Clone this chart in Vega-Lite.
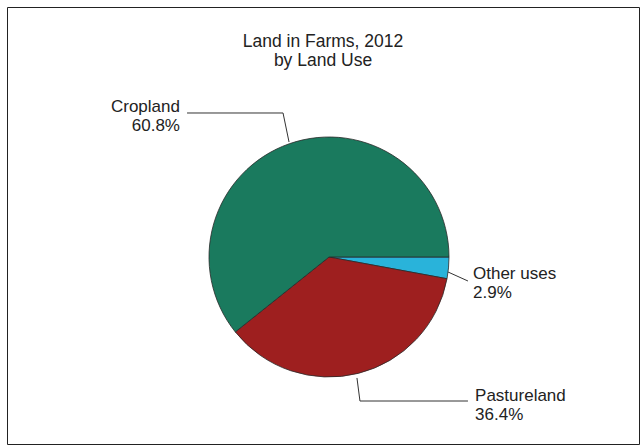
{
  "$schema": "https://vega.github.io/schema/vega-lite/v6.json",
  "width": 632,
  "height": 437,
  "autosize": {"type": "none"},
  "padding": {"left": 7, "top": 7, "right": 2, "bottom": 3},
  "background": "white",
  "config": {
    "view": {"stroke": "#222", "strokeWidth": 1},
    "font": "Liberation Sans"
  },
  "title": {
    "text": ["Land in Farms, 2012", "by Land Use"],
    "anchor": "middle",
    "frame": "group",
    "offset": -62,
    "fontSize": 17.5,
    "fontWeight": "normal",
    "color": "#222",
    "lineHeight": 18.5,
    "font": "Liberation Sans"
  },
  "datasets": {
    "landuse": [
      {"use": "Other uses", "share": 2.9, "order": 1},
      {"use": "Pastureland", "share": 36.4, "order": 2},
      {"use": "Cropland", "share": 60.8, "order": 3}
    ],
    "leaders": [
      {"use": "Cropland", "seq": 1, "lx": -0.333, "ly": 0.958},
      {"use": "Cropland", "seq": 2, "lx": -0.383, "ly": 1.2},
      {"use": "Cropland", "seq": 3, "lx": -1.183, "ly": 1.2},
      {"use": "Other uses", "seq": 1, "lx": 0.992, "ly": -0.125},
      {"use": "Other uses", "seq": 2, "lx": 1.158, "ly": -0.2},
      {"use": "Pastureland", "seq": 1, "lx": 0.233, "ly": -1.008},
      {"use": "Pastureland", "seq": 2, "lx": 0.258, "ly": -1.2},
      {"use": "Pastureland", "seq": 3, "lx": 1.158, "ly": -1.2}
    ],
    "labels": [
      {"use": "Cropland", "label": "Cropland\n60.8%", "lx": -1.242, "ly": 1.25},
      {"use": "Other uses", "label": "Other uses\n2.9%", "lx": 1.2, "ly": -0.14},
      {"use": "Pastureland", "label": "Pastureland\n36.4%", "lx": 1.217, "ly": -1.158}
    ]
  },
  "layer": [
    {
      "data": {"name": "leaders"},
      "mark": {"type": "line", "color": "#333", "strokeWidth": 1},
      "encoding": {
        "x": {"field": "lx", "type": "quantitative", "axis": null,
              "scale": {"domain": [-2.6833, 2.5833], "nice": false, "zero": false}},
        "y": {"field": "ly", "type": "quantitative", "axis": null,
              "scale": {"domain": [-1.5583, 2.0833], "nice": false, "zero": false}},
        "detail": {"field": "use"},
        "order": {"field": "seq"}
      }
    },
    {
      "data": {"name": "landuse"},
      "mark": {"type": "arc", "outerRadius": 120, "stroke": "#2a2a2a", "strokeWidth": 0.8},
      "encoding": {
        "x": {"datum": 0, "type": "quantitative"},
        "y": {"datum": 0, "type": "quantitative"},
        "theta": {"field": "share", "type": "quantitative", "stack": true,
                  "scale": {"range": [1.5708, 7.854]}},
        "order": {"field": "order"},
        "color": {"field": "use", "type": "nominal", "legend": null,
                  "scale": {"domain": ["Cropland", "Pastureland", "Other uses"],
                            "range": ["#1a7a5e", "#9e1f1f", "#29b3da"]}}
      }
    },
    {
      "data": {"name": "labels"},
      "transform": [{"filter": "datum.use === 'Cropland'"}],
      "mark": {"type": "text", "align": "right", "baseline": "middle", "fontSize": 17,
               "lineHeight": 19, "lineBreak": "\n", "color": "#222"},
      "encoding": {
        "x": {"field": "lx", "type": "quantitative"},
        "y": {"field": "ly", "type": "quantitative"},
        "text": {"field": "label"}
      }
    },
    {
      "data": {"name": "labels"},
      "transform": [{"filter": "datum.use !== 'Cropland'"}],
      "mark": {"type": "text", "align": "left", "baseline": "middle", "fontSize": 17,
               "lineHeight": 19, "lineBreak": "\n", "color": "#222"},
      "encoding": {
        "x": {"field": "lx", "type": "quantitative"},
        "y": {"field": "ly", "type": "quantitative"},
        "text": {"field": "label"}
      }
    }
  ]
}
